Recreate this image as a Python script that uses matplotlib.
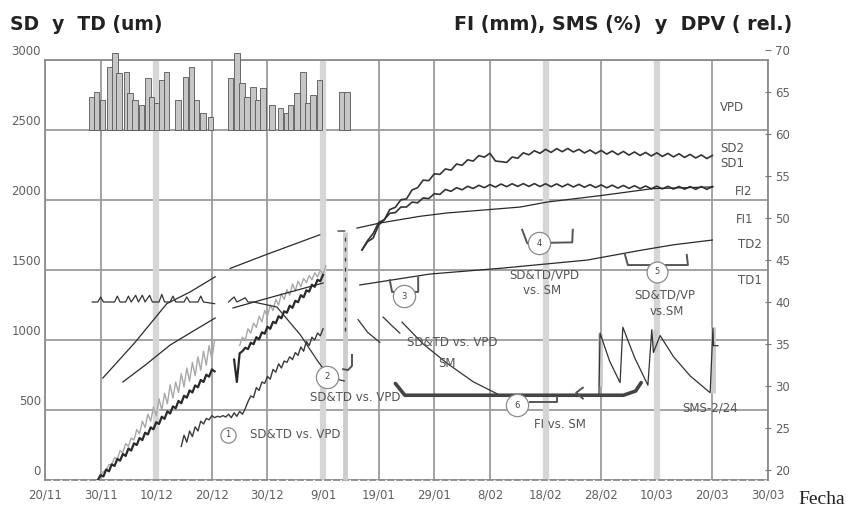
import numpy as np
import matplotlib
matplotlib.use("Agg")
import matplotlib.pyplot as plt

nan = np.nan

# ---------------- axes scales ----------------
date_ticks = np.arange(0, 131, 10)          # days counted from 20/11
date_labels = ["20/11", "30/11", "10/12", "20/12", "30/12", "9/01", "19/01",
               "29/01", "8/02", "18/02", "28/02", "10/03", "20/03", "30/03"]
left_ticks = [0, 500, 1000, 1500, 2000, 2500, 3000]
right_ticks = [20, 25, 30, 35, 40, 45, 50, 55, 60, 65, 70]
band_days = [20, 50, 90, 110]

# ---------------- VPD (relative, right scale) ----------------
vpd_base = 60.5
vpd_day = [8.4, 9.3, 10.4, 11.7, 12.6, 13.3, 14.6, 15.3, 16.2, 17.4, 18.5, 19.2,
           20.1, 21.0, 21.8,
           23.9, 25.2, 26.4, 27.3, 28.4, 29.8,
           33.3, 34.5, 35.4, 36.3, 37.4, 38.3, 39.2, 40.8, 42.3, 43.5, 44.1,
           45.3, 46.4, 47.3, 48.2, 49.4,
           53.4, 54.3]
vpd_peak = [64.4, 65.0, 64.0, 68.0, 69.6, 67.3, 67.4, 64.9, 64.0, 63.5, 66.7, 64.4,
            63.7, 66.4, 67.4,
            64.0, 66.8, 68.0, 64.0, 62.5, 62.0,
            66.7, 69.6, 66.1, 64.4, 65.6, 64.0, 65.5, 63.5, 63.1, 62.5, 63.5,
            64.9, 67.4, 63.7, 64.6, 66.4,
            65.0, 65.0]

# ---------------- stem diameters (um, left scale) ----------------
sd2_a_day = np.arange(9.5, 30.51, 0.5)
sd2_a = [0, 35, 25, 75, 62, 112, 100, 150, 138, 186, 172, 225, 210, 262, 250,
         300, 285, 338, 325, 376, 362, 413, 400, 452, 437, 490, 475, 526, 512,
         565, 548, 602, 588, 640, 625, 676, 662, 715, 700, 752, 738, 790, 776]
sd1_a_day = np.arange(10.0, 30.51, 0.5)
sd1_a = [30, 60, 70, 110, 110, 160, 150, 210, 195, 260, 240, 300, 285, 360,
         330, 420, 375, 470, 420, 520, 460, 580, 500, 620, 545, 680, 585, 700,
         625, 760, 665, 800, 705, 840, 745, 880, 785, 920, 820, 960, 860, 1000]
sd2_b_day = np.arange(34.0, 50.01, 0.5)
sd2_b = [860, 700, 905, 920, 945, 935, 980, 970, 1020, 1005, 1055, 1045, 1095,
         1080, 1130, 1120, 1170, 1155, 1205, 1195, 1245, 1230, 1280, 1270, 1320,
         1305, 1355, 1345, 1395, 1380, 1430, 1420, 1465]
sd1_b_day = np.arange(35.0, 50.51, 0.5)
sd1_b = [960, 1020, 1000, 1080, 1050, 1120, 1090, 1170, 1130, 1210, 1170, 1250,
         1210, 1290, 1250, 1330, 1290, 1360, 1320, 1400, 1350, 1420, 1380, 1440,
         1410, 1460, 1430, 1480, 1450, 1500, 1470, 1530]
td1_day = np.arange(24.5, 50.01, 0.5)
td1 = [240, 320, 270, 350, 310, 380, 350, 420, 400, 440, 430, 460, 445, 455,
       450, 460, 450, 470, 445, 480, 455, 490, 470, 510, 560, 600, 590, 660,
       640, 700, 690, 740, 720, 790, 770, 830, 800, 850, 840, 880, 860, 910,
       890, 950, 920, 990, 960, 1020, 1000, 1050, 1030, 1080]
late_day = np.arange(57, 121, 1)
sd2_late = [1643, 1702, 1728, 1822, 1858, 1932, 1948, 2002, 2008, 2072, 2088,
            2142, 2138, 2187, 2183, 2222, 2213, 2257, 2248, 2287, 2278, 2317,
            2306, 2334, 2278, 2274, 2268, 2307, 2298, 2337, 2323, 2352, 2333,
            2362, 2340, 2367, 2345, 2368, 2343, 2362, 2336, 2357, 2331, 2354,
            2328, 2350, 2324, 2347, 2321, 2343, 2318, 2340, 2314, 2337, 2311,
            2333, 2308, 2330, 2304, 2326, 2300, 2322, 2296, 2318]
sd1_late = [1643, 1710, 1760, 1840, 1860, 1905, 1910, 1950, 1950, 1985, 1980,
            2015, 2010, 2045, 2040, 2075, 2062, 2088, 2073, 2098, 2082, 2105,
            2088, 2110, 2092, 2114, 2095, 2116, 2097, 2117, 2097, 2117, 2096,
            2116, 2095, 2115, 2094, 2114, 2093, 2112, 2091, 2110, 2089, 2108,
            2087, 2106, 2085, 2104, 2083, 2102, 2081, 2100, 2080, 2099, 2079,
            2098, 2078, 2097, 2077, 2096, 2076, 2096, 2076, 2096]
td2_day = [14.0, 18.0, 22.5, 26.5, 30.6, nan, 33.8, 42.0, 50.0, nan,
           56.6, 69.2, 82.4, 97.5, 107.0, 113.0, 120.0]
td2 = [700, 820, 964, 1060, 1157, nan, 1229, 1320, 1407, nan,
       1393, 1471, 1514, 1571, 1640, 1680, 1714]

# ---------------- fruit growth (mm, right scale) ----------------
fi_day = [10.4, 16.2, 21.9, 26.1, 30.6, nan, 33.3, 39.6, 49.4, nan, 52.7, 53.9,
          nan, 56.1, 60.2, 67.4, 72.3, 85.4, 90.3, 100.3, 109.3, 120.1]
fi = [30.95, 35.2, 39.8, 41.2, 43.0, nan, 44.0, 45.6, 48.0, nan, 48.45, 48.45,
      nan, 48.8, 49.4, 50.2, 50.6, 51.3, 51.9, 52.7, 53.5, 53.7]

# ---------------- soil moisture (%, right scale) ----------------
sms_day = [8.5, 9.5, 10.0, 10.5, 12.5, 13.0, 13.5, 14.5, 15.0, 15.5, 16.3, 16.8,
           17.5, 18.0, 18.8, 19.3, 20.5, 21.0, 21.5, 22.5, 23.0, 23.5, 25.0,
           25.5, 26.0, 27.5, 28.0, 28.5, 30.5, nan,
           33.0, 34.0, 34.5, 36.0, 36.5, 37.5, 41.7, 45.9, 48.9, 51.2, 53.8, nan,
           56.3, 58.0, 60.2, nan, 60.8, 62.5, 63.8, nan,
           64.2, 68.0, 72.3, 77.0, 81.8, 90.0, 99.6, 99.8, 101.5, 103.4, 103.9,
           106.0, 108.4, 109.1, 109.4, 110.6, 113.0, 116.0, 119.6, 120.1, 120.2,
           121.0]
sms = [40.0, 40.0, 40.6, 40.0, 40.0, 40.7, 40.0, 40.0, 40.7, 40.0, 40.8, 40.0,
       40.8, 40.0, 40.8, 40.0, 40.0, 40.9, 40.0, 40.0, 40.7, 40.0, 40.0,
       40.6, 40.0, 40.0, 40.7, 40.0, 39.8, nan,
       40.0, 40.6, 40.0, 40.5, 40.0, 40.0, 39.4, 36.1, 33.1, 31.0, 30.6, nan,
       37.9, 36.4, 35.2, nan, 38.2, 37.1, 36.3, nan,
       37.6, 35.0, 32.7, 30.5, 28.9, 28.8, 28.8, 36.3, 33.0, 30.4, 37.0,
       33.4, 30.1, 36.7, 34.0, 36.0, 33.5, 31.2, 29.2, 36.9, 34.8,
       34.8]
irrig_day = [54.0, 99.8, 109.6, 120.1]
irrig_top = [48.3, 36.3, 36.7, 37.0]
irrig_bottom = [18.8, 30.0, 34.0, 29.2]

# ---------------- figure ----------------
W, H = 849, 507
fig = plt.figure(figsize=(W / 100, H / 100), dpi=100)


def fx(px):
    return px / W


def fy(py):
    return 1 - py / H


L, R = 45, 768
ax = fig.add_axes([fx(L), fy(480), fx(R) - fx(L), fy(60) - fy(480)])
ax.set_xlim(0, 130)
ax.set_ylim(0, 3000)
ax.set_xticks(date_ticks)
ax.set_xticklabels(date_labels, fontsize=8.5, color="#606060")
ax.tick_params(axis="x", length=0, pad=6)
ax.set_yticks(left_ticks)
ax.tick_params(axis="y", length=0, labelleft=False)
ax.set_axisbelow(True)
ax.grid(True, color="#9c9c9c", lw=1.3)
for name, sp in ax.spines.items():
    sp.set_color("#8c8c8c")
    sp.set_linewidth(1.3)
ax.spines["bottom"].set_linestyle((0, (3, 2)))
for d in band_days:
    ax.axvline(d, color="#d6d6d6", lw=4.5, zorder=0.6)

# scale axes carrying the tick labels
ax_s = fig.add_axes([fx(L), fy(470), fx(R) - fx(L), fy(50) - fy(470)],
                    facecolor="none")
ax_s.set_xlim(0, 130)
ax_s.set_ylim(0, 3000)
ax_s.set_xticks([])
ax_s.set_yticks(left_ticks)
ax_s.tick_params(axis="y", length=0, pad=3, labelsize=8.5, labelcolor="#606060")
for sp in ax_s.spines.values():
    sp.set_visible(False)

ax_r = ax_s.twinx()
ax_r.set_xlim(0, 130)
ax_r.set_ylim(20, 70)
ax_r.set_yticks(right_ticks)
ax_r.tick_params(axis="y", length=4, direction="inout", color="#777777",
                 pad=3, labelsize=8.5, labelcolor="#606060")
for sp in ax_r.spines.values():
    sp.set_visible(False)

# VPD bars
ax_r.bar(vpd_day, np.array(vpd_peak) - vpd_base, bottom=vpd_base, width=0.95,
         color="#c6c6c6", edgecolor="#555555", linewidth=0.6, zorder=2)

# irrigation marks
for d, t, b in zip(irrig_day, irrig_top, irrig_bottom):
    ax_r.plot([d, d], [b, t], color="#cccccc", lw=3.5, zorder=1.5,
              solid_capstyle="butt", clip_on=False)
ax_r.plot([irrig_day[0], irrig_day[0]], [36.5, irrig_top[0]], color="#333333",
          lw=0.9, ls=(0, (3, 5)), zorder=2)

# stem / trunk diameter series
ax.plot(sd1_a_day, sd1_a, color="#a8a8a8", lw=1.0, zorder=3)
ax.plot(sd1_b_day, sd1_b, color="#a8a8a8", lw=1.0, zorder=3)
ax.plot(sd2_a_day, sd2_a, color="#2a2a2a", lw=1.6, zorder=4)
ax.plot(sd2_b_day, sd2_b, color="#2a2a2a", lw=1.6, zorder=4)
ax.plot(td1_day, td1, color="#3a3a3a", lw=1.0, zorder=4)
ax.plot(late_day, sd2_late, color="#333333", lw=1.2, zorder=4)
ax.plot(late_day, sd1_late, color="#333333", lw=1.2, zorder=4)
ax.plot(td2_day, td2, color="#2a2a2a", lw=0.9, zorder=4)

# fruit growth and soil moisture
ax_r.plot(fi_day, fi, color="#2a2a2a", lw=0.9, zorder=4)
ax_r.plot(sms_day, sms, color="#333333", lw=0.9, zorder=4)

# brackets
br_kw = dict(color="#555555", lw=1.4, zorder=5)
ax_r.plot([53.6, 54.5, 55.2, 55.2], [32.0, 31.9, 32.4, 33.7], **br_kw)
ax_r.plot([62.0, 62.4, 67.1, 67.1], [42.6, 41.2, 41.2, 42.9], **br_kw)
ax_r.plot([85.8, 86.7, 94.8, 94.9], [48.6, 47.0, 47.1, 48.6], **br_kw)
ax_r.plot([104.3, 104.8, 115.6, 115.4], [45.6, 44.4, 44.4, 45.6], **br_kw)
ax_r.plot([63.0, 64.7, 104.0, 106.2, 107.2], [30.3, 28.9, 28.9, 29.4, 30.4],
          color="#444444", lw=2.6, zorder=5, solid_capstyle="round")
ax_r.plot([87.2, 92.1, 92.1], [28.1, 28.1, 28.7], **br_kw)
ax_r.plot([96.7, 95.5, 96.7], [29.8, 29.2, 28.5], **br_kw)

# numbered circles
circles = [(32.9, 24.2, "1", 11), (50.7, 31.1, "2", 16), (64.6, 40.7, "3", 16),
           (88.8, 47.0, "4", 16), (110.0, 43.6, "5", 15), (84.9, 27.7, "6", 16)]
for cx, cy, lab, ms in circles:
    ax_r.plot(cx, cy, "o", ms=ms, mfc="white", mec="#8a8a8a", mew=0.9, zorder=7)
    ax_r.text(cx, cy, lab, fontsize=6, color="#444444", ha="center",
              va="center", zorder=8)

ann_kw = dict(fontsize=8.5, color="#555555", zorder=8)
ax_r.text(36.9, 24.2, "SD&TD vs. VPD", ha="left", va="center", **ann_kw)
ax_r.text(55.7, 28.6, "SD&TD vs. VPD", ha="center", va="center", **ann_kw)
ax_r.text(73.2, 35.2, "SD&TD vs. VPD", ha="center", va="center", **ann_kw)
ax_r.text(89.7, 43.2, "SD&TD/VPD", ha="center", va="center", **ann_kw)
ax_r.text(89.4, 41.4, "vs. SM", ha="center", va="center", **ann_kw)
ax_r.text(111.5, 40.8, "SD&TD/VP", ha="center", va="center", **ann_kw)
ax_r.text(111.8, 38.9, "vs.SM", ha="center", va="center", **ann_kw)
ax_r.text(92.6, 25.4, "FI vs. SM", ha="center", va="center", **ann_kw)
ax_r.text(72.3, 32.7, "SM", ha="center", va="center", **ann_kw)
ax_r.text(119.6, 27.4, "SMS-2/24", ha="center", va="center", **ann_kw)

# series names at the right end
for lab, lx, ly in [("VPD", 121.4, 63.2), ("SD2", 121.4, 58.3),
                    ("SD1", 121.4, 56.5), ("FI2", 124.1, 53.1),
                    ("FI1", 124.2, 49.8), ("TD2", 124.6, 46.8),
                    ("TD1", 124.6, 42.6)]:
    ax_r.text(lx, ly, lab, ha="left", va="center", **ann_kw)

# titles
fig.text(fx(10), fy(25), "SD  y  TD (um)", fontsize=13.5, fontweight="bold",
         ha="left", va="center", color="#222222")
fig.text(fx(792), fy(24), "FI (mm), SMS (%)  y  DPV ( rel.)", fontsize=13.8,
         fontweight="bold", ha="right", va="center", color="#222222")
fig.text(fx(798), fy(500), "Fecha", family="Liberation Serif", fontsize=14,
         ha="left", va="center", color="#222222")

fig.savefig("out.png", dpi=100)
